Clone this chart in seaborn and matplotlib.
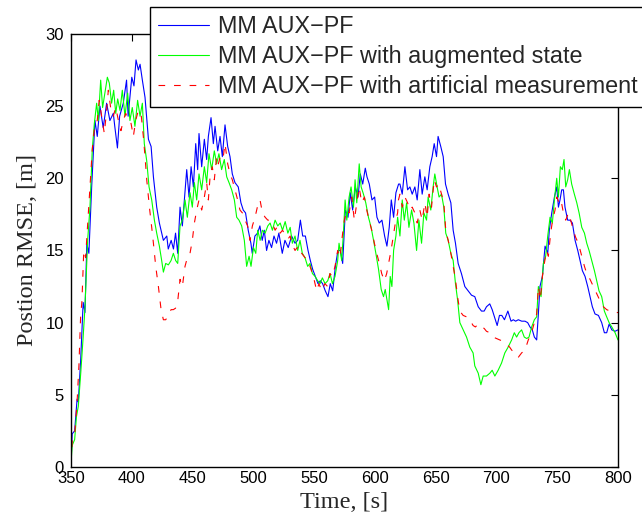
import matplotlib
matplotlib.use("Agg")
import matplotlib.pyplot as plt
import seaborn as sns
import numpy as np

# -----------------------------
# Data (time [s], RMSE [m])
# -----------------------------
t_blue = [350, 351, 353, 355, 356, 358, 360, 361.5, 363, 364.7, 367, 368.4, 369.7, 371.6, 373.8,
          376.5, 379.3, 382, 384.8, 386, 388.2, 390, 393, 395.7, 397, 400, 401.8, 403.5, 405.4,
          406.8, 408.7, 410.9, 413.7, 415.9, 417.8, 420.5, 422.7, 426, 428.8, 430, 432.4, 434.3,
          436, 437.8, 439.7, 441.6, 445.2, 447.1, 448.8, 450.7, 452.6, 454.2, 455.3, 457.5, 459.7,
          461.6, 463, 465.2, 467.1, 468.5, 470.7, 472.6, 474.5, 476.7, 478.9, 480.8, 482.7, 484.9,
          487.6, 489.8, 491.7, 493.6, 495.8, 498, 499.1, 501.3, 503.5, 505.4, 507.3, 509, 510.9,
          512.8, 515, 517, 519.1, 521, 523.8, 526, 528.7, 531.5, 534.3, 536.5, 538.7, 540.6, 542.8,
          545, 546.9, 548.8, 551, 553.2, 555.1, 557, 559.2, 561.4, 563.3, 565.3, 567.5, 569.6,
          571.6, 573.5, 575.7, 577.9, 579.8, 581.7, 583.9, 586.1, 588, 590, 592.1, 593.5, 595.4,
          597.6, 599.8, 601.7, 603.6, 605.8, 608, 609.9, 611.8, 613.5, 615.4, 617.3, 619.5, 620.6,
          622.5, 624.7, 626.9, 628.8, 630.7, 632.9, 634.8, 637, 638.9, 641.1, 643, 645.2, 647.1,
          648.8, 650.7, 652, 654.2, 656.2, 658.1, 660.3, 662.5, 664.4, 666.3, 668.5, 671.2, 674,
          676.7, 679.5, 682.2, 685, 687.7, 689.9, 691.8, 694.5, 696.5, 698.4, 700.6, 702.5, 704.4,
          706.6, 709.4, 712, 713.9, 715.8, 718, 720.8, 723.5, 725.7, 727.6, 729.5, 731.2, 733.1,
          734.5, 735.8, 737.8, 740, 742.2, 743.5, 745.5, 747.7, 749.6, 751, 752.3, 753.7, 755.1,
          756.4, 758.6, 760.5, 762.5, 764.7, 766.9, 768.8, 770.7, 772.9, 775.1, 777, 778.9, 781.1,
          783.9, 786.6, 788.8, 790.7, 792.7, 794.9, 797.6, 800]
rmse_blue = [0.3, 2.3, 2.5, 4.7, 4.5, 7.5, 11.4, 10.7, 15.5, 14.8, 19.4, 21.8, 24.0, 22.9, 25.0,
             23.5, 25.2, 24.0, 24.5, 23.6, 22.1, 24.3, 25.2, 26.8, 24.3, 27.0, 26.4, 28.2, 27.5,
             27.9, 26.8, 25.6, 22.7, 22.2, 20.1, 18.0, 16.9, 15.7, 16.0, 15.1, 15.7, 15.1,
             16.2, 14.8, 18.0, 16.7, 20.6, 18.7, 20.8, 19.4, 22.4, 20.6, 23.1, 20.8, 22.7,
             21.3, 22.9, 24.2, 22.4, 23.6, 21.9, 22.9, 21.5, 23.7, 22.2, 21.5, 20.3, 19.7,
             19.4, 18.3, 17.8, 17.6, 16.4, 15.5, 14.8, 16.0, 16.2, 16.7, 15.7, 16.4, 15.0,
             15.7, 15.2, 16.0, 15.5, 16.2, 14.8, 15.7, 15.2, 16.0, 15.5, 15.7, 17.1, 16.0, 16.0,
             15.0, 14.3, 13.7, 13.2, 12.7, 12.9, 12.7, 12.2, 11.8, 12.7, 12.2, 13.9, 15.0,
             15.0, 14.1, 17.8, 17.3, 19.0, 17.8, 19.4, 18.7, 20.3, 19.6, 20.7, 20.1, 19.6,
             18.5, 18.7, 17.3, 16.9, 17.1, 16.0, 15.3, 16.6, 18.5, 17.3, 19.0, 19.6, 19.6,
             18.9, 20.8, 19.2, 19.4, 18.9, 19.4, 18.5, 20.6, 18.9, 20.1, 19.2, 20.8, 21.5,
             22.4, 21.5, 22.9, 22.2, 21.5, 19.6, 18.9, 18.3, 16.4, 15.5, 14.1, 13.4, 12.5,
             12.2, 11.9, 11.8, 11.1, 10.8, 10.8, 11.1, 11.3, 10.9, 10.4, 9.8, 10.5, 10.5,
             10.2, 10.8, 10.1, 10.2, 10.1, 10.2, 10.1, 10.1, 10.0, 9.7, 9.5, 9.0, 8.8,
             10.6, 12.5, 13.2, 15.3, 14.8, 16.4, 17.6, 18.7, 19.4, 18.0, 18.5, 19.2, 19.2,
             18.0, 17.1, 17.1, 16.9, 15.7, 15.0, 14.3, 13.6, 13.2, 12.5, 11.8, 11.1, 10.6,
             10.5, 10.0, 9.3, 9.3, 9.9, 9.5, 9.4, 9.5]

t_green = [350, 351, 353, 354.5, 356, 358, 360, 361.5, 363.7, 365.6, 367.5, 369.2, 371.1, 372.5,
           374.4, 376, 377.9, 379.9, 381.5, 383.4, 385.1, 386.8, 388.4, 390.3, 392.2, 394.4,
           396.6, 398.5, 400.4, 402.6, 404.8, 406.8, 408.7, 410.3, 412.3, 414.2, 416.4, 418.6,
           420.5, 422.7, 424.6, 426, 427.9, 430.1, 432.3, 434.2, 436.1, 437.8, 439.7, 441.6,
           443.8, 445.7, 447.9, 449.8, 451.5, 453.4, 455.3, 457.5, 459.7, 461.6, 463.5, 465.7,
           467.9, 469.8, 471.7, 473.9, 476.1, 478.1, 480, 482.2, 484.4, 486.3, 488.2, 490.4,
           492.6, 494.5, 496.5, 498.1, 500.1, 502, 503.6, 505.6, 507.5, 509.7, 511.9, 513.8,
           515.7, 517.9, 520.1, 522.1, 524, 526.2, 528.4, 530.3, 532.1, 534.3, 536.5, 538.4,
           540.3, 542.5, 544.7, 546.6, 548.6, 550.8, 553, 554.9, 556.8, 559, 561.2, 563.1,
           565.1, 567.2, 569.4, 570.5, 572.7, 574.1, 575.5, 576.9, 578.8, 580.4, 582.4, 583.7,
           585.1, 587.1, 588.7, 590.6, 592.5, 594.7, 596.9, 598.9, 600.8, 603, 605.2, 607.1,
           608.5, 609.9, 611.3, 612.6, 614, 615.4, 617.3, 618.7, 620.6, 622.5, 624.2, 626.1,
           628, 630.2, 632.1, 634.3, 636.2, 638.4, 640.3, 642.5, 643.8, 646, 647.9, 649.3,
           651.2, 652.8, 654.8, 656.7, 658.3, 660.3, 662.5, 664.4, 666.3, 668, 669.9, 672.6,
           675.4, 678.1, 680.8, 682.2, 685, 687.2, 689.1, 691.8, 694.6, 696.5, 698.7, 701.4,
           704.2, 706.9, 709.6, 712.5, 714.7, 716.6, 718.5, 720.7, 722.9, 724.9, 726.8, 729,
           731.2, 733.1, 734.5, 736.7, 738.6, 740.5, 742.2, 744.1, 746, 747.7, 749.6, 751,
           752.6, 754.2, 755.6, 757, 758.6, 760, 761.9, 764.1, 766.1, 768, 770.2, 772.4, 774.3,
           776.2, 778.4, 780.6, 782.5, 784.4, 786.6, 788.8, 790.7, 792.7, 794.9, 797.6, 800]
rmse_green = [0.3, 1.5, 1.9, 3.5, 4.2, 6.5, 9.0, 11.1, 15.7, 18.0, 22.0, 23.8, 25.2, 24.0,
              26.8, 24.9, 25.9, 27.0, 26.6, 25.2, 26.1, 24.5, 25.5, 24.7, 26.1, 24.3,
              25.9, 24.0, 24.9, 23.6, 25.4, 24.3, 25.2, 22.4, 21.2, 19.4, 18.5, 17.1,
              16.2, 15.3, 14.3, 13.5, 14.1, 14.0, 14.3, 14.8, 14.3, 14.1, 16.7, 17.1,
              18.5, 17.3, 19.0, 18.0, 19.7, 18.5, 20.3, 19.2, 20.8, 19.7, 21.7, 20.6,
              21.9, 21.0, 21.7, 20.6, 21.3, 20.1, 19.7, 19.2, 18.5, 17.3, 17.1, 16.7,
              15.7, 13.9, 14.6, 13.9, 15.2, 14.8, 16.4, 15.7, 16.4, 16.2, 16.7, 16.9,
              16.4, 17.1, 16.7, 16.9, 16.4, 17.0, 16.2, 16.6, 15.5, 16.0, 15.0, 15.7,
              14.8, 14.5, 13.9, 14.1, 13.4, 13.2, 12.9, 12.7, 13.1, 12.7, 12.9, 13.4,
              12.7, 13.2, 14.3, 15.5, 14.3, 16.2, 18.5, 17.1, 18.7, 19.4, 18.0, 19.9,
              18.3, 21.0, 19.4, 18.9, 18.3, 17.3, 16.6, 15.7, 14.8, 13.7, 12.3, 11.8,
              12.3, 11.6, 10.9, 13.2, 12.5, 15.0, 16.0, 17.3, 16.0, 18.5, 17.1, 18.3,
              16.6, 17.8, 16.9, 15.0, 17.1, 15.5, 17.6, 17.1, 18.7, 17.8, 19.4, 20.3,
              19.4, 18.7, 18.9, 18.0, 16.2, 15.7, 14.8, 14.3, 12.7, 11.6, 10.0, 9.5,
              9.0, 8.3, 7.9, 7.0, 6.5, 5.7, 6.3, 6.3, 6.5, 6.7, 6.3, 6.7,
              7.2, 7.9, 8.3, 8.8, 9.3, 9.0, 9.3, 9.5, 9.0, 8.9, 9.0, 9.7,
              10.2, 10.4, 12.5, 11.8, 14.1, 14.6, 16.0, 17.3, 16.9, 18.5, 20.0, 18.7,
              20.8, 20.6, 21.3, 19.4, 19.9, 20.6, 19.6, 18.9, 18.3, 17.6, 16.6, 16.2, 15.5,
              15.0, 14.3, 13.6, 12.9, 12.2, 11.8, 10.8, 10.4, 10.0, 9.7, 9.3, 8.8]

t_red = [350, 351, 353, 355, 356.5, 357.9, 359, 360.5, 362, 363.5, 365.6, 367.5, 369.7, 371.6,
         373.2, 375.2, 377.4, 379.3, 380.7, 382.9, 384.8, 386.8, 389, 391.1, 393, 395, 397.2,
         399.4, 401.3, 403.2, 405.4, 407.6, 409.5, 410.9, 412.3, 414.5, 416.4, 417.8, 419.7,
         421.9, 424.1, 426, 427.9, 430.1, 432.3, 434.2, 436, 437.8, 439.7, 441.6, 443.8, 446,
         447.9, 449.8, 451.5, 453.4, 455.3, 457.5, 459.7, 461.6, 463, 464.4, 466.2, 467.9,
         469.8, 471.2, 473.4, 475.3, 476.7, 478.9, 480.8, 482.7, 484.9, 487.1, 489, 491, 493.2,
         495.3, 497.3, 499.2, 501.4, 503.3, 505.5, 507.5, 509.7, 511.9, 513.8, 515.7, 517.9,
         520.1, 522.1, 524, 526.2, 528.6, 530.3, 531.5, 534.3, 537, 539.8, 542.5, 544.7, 546.6,
         549.4, 552.1, 554, 556.2, 558.9, 561.1, 563, 565, 567.2, 569.4, 571.3, 573.2, 574.9,
         576.8, 578.8, 580.9, 583.1, 585.1, 587, 589.2, 591.4, 593.3, 595.2, 597.4, 599.6,
         601.5, 603.7, 605.6, 607.8, 609.7, 611.7, 613.3, 615.2, 617.2, 618.7, 619.4, 620.6,
         622.5, 624.7, 626.9, 628.8, 630.7, 632.9, 634.8, 637, 638.9, 641.1, 643, 644.6, 646.6,
         648.8, 650.7, 652.6, 654.8, 656.7, 658.3, 660.3, 662.5, 664.4, 666.3, 668, 669.9,
         672.6, 675.4, 678.1, 680.8, 682.7, 685, 687.7, 689.9, 691.8, 694.6, 697.3, 700, 702.7,
         705.5, 708.2, 710.9, 712.5, 715.2, 718, 720.7, 723.5, 726.2, 728.9, 731.2, 733.1,
         734.5, 736.1, 737.8, 739.4, 741.3, 742.7, 744.6, 746.2, 748.2, 749.6, 751.5, 753.1,
         755.1, 757, 759.2, 761.1, 763.3, 765.2, 767.4, 770.2, 772.4, 774.3, 777, 779.8, 782.5,
         785.3, 788, 790.7, 793.5, 796.2, 800]
rmse_red = [0.3, 1.8, 2.2, 4.5, 7.0, 10.4, 11.5, 15.0, 14.5, 16.5, 19.4, 22.0, 23.8, 24.0,
            25.4, 24.3, 23.1, 24.7, 26.1, 24.7, 24.3, 24.9, 24.0, 23.3, 24.0, 24.5, 24.0,
            23.8, 22.9, 24.0, 24.7, 24.5, 22.9, 21.5, 19.9, 18.0, 16.6, 15.5, 13.9,
            12.5, 10.9, 10.2, 10.2, 10.5, 10.9, 10.9, 11.0, 11.5, 13.0, 12.5, 13.9, 14.6,
            14.8, 15.7, 16.9, 17.8, 18.5, 17.8, 18.7, 19.7, 18.5, 20.1, 20.8, 19.9,
            21.5, 21.0, 21.7, 21.5, 22.4, 21.0, 20.3, 19.9, 19.2, 18.5, 17.8, 17.6, 17.1,
            16.7, 15.7, 16.7, 17.3, 18.0, 18.5, 17.6, 17.3, 17.1, 17.1, 16.9, 16.4,
            16.7, 16.2, 16.4, 16.1, 15.8, 16.0, 15.5, 15.0, 15.3, 14.8, 14.5, 14.4, 13.9,
            13.2, 12.2, 12.7, 12.2, 12.7, 12.5, 13.4, 13.2, 13.9, 15.0, 14.5, 16.0, 17.1,
            17.8, 17.6, 18.7, 17.1, 18.3, 19.4, 18.3, 18.7, 17.8, 17.1, 16.4, 15.5,
            14.8, 14.1, 13.4, 12.9, 13.4, 14.3, 15.0, 16.0, 17.1, 17.6, 18.5, 18.9,
            18.0, 18.7, 18.3, 17.8, 18.0, 17.6, 16.9, 17.8, 17.1, 18.3, 17.3, 18.9, 18.0,
            19.9, 19.4, 19.6, 18.9, 18.3, 16.4, 15.7, 14.8, 13.9, 13.0, 11.8, 10.8,
            10.5, 10.4, 10.2, 9.8, 9.7, 9.9, 9.7, 9.6, 9.4, 9.3, 9.0, 8.9, 8.8,
            8.7, 8.5, 8.3, 8.1, 7.9, 7.6, 7.9, 8.1, 8.8, 9.3, 10.0, 10.6,
            12.5, 11.6, 13.2, 14.1, 15.0, 14.6, 16.2, 17.1, 17.8, 18.7, 18.3, 18.5,
            17.6, 17.1, 17.6, 17.1, 16.4, 15.9, 15.5, 14.6, 13.9, 13.4, 13.0, 12.5, 12.0,
            11.5, 11.1, 10.9, 10.8, 10.7, 10.7]

labels = ["MM AUX\u2212PF",
          "MM AUX\u2212PF with augmented state",
          "MM AUX\u2212PF with artificial measurement"]
x_ticks = [350, 400, 450, 500, 550, 600, 650, 700, 750, 800]
y_ticks = [0, 5, 10, 15, 20, 25, 30]

# -----------------------------
# Style
# -----------------------------
sns.set_style("white")
plt.rcParams["font.family"] = ["Liberation Sans", "DejaVu Sans"]

fig = plt.figure(figsize=(6.42, 5.18), dpi=100)
ax = fig.add_axes([0.1106, 0.0985, 0.852, 0.836])

sns.lineplot(x=np.array(t_blue), y=np.array(rmse_blue), color=(0, 0, 1),
             linewidth=0.8, label=labels[0], ax=ax)
sns.lineplot(x=np.array(t_green), y=np.array(rmse_green), color=(0, 1, 0),
             linewidth=0.8, label=labels[1], ax=ax)
sns.lineplot(x=np.array(t_red), y=np.array(rmse_red), color=(1, 0, 0),
             linewidth=0.8, linestyle=(0, (6, 8)), label=labels[2], ax=ax)

ax.set_xlim(350, 800)
ax.set_ylim(0, 30)
ax.set_xticks(x_ticks)
ax.set_yticks(y_ticks)
ax.tick_params(direction="in", length=5, width=0.8, top=True, right=True,
               labelsize=12, colors="black")
ax.tick_params(axis="y", pad=5)
ax.tick_params(axis="x", pad=3)
for s in ax.spines.values():
    s.set_visible(True)
    s.set_color("black")
    s.set_linewidth(1.0)

ax.set_xlabel("Time, [s]", family="Liberation Serif", fontsize=17.5, labelpad=4)
ax.set_ylabel("Postion RMSE, [m]", family="Liberation Serif", fontsize=17.5, labelpad=5)

# legend box sits over the top of the axes and runs off the right edge
leg = ax.legend(loc="upper left", bbox_to_anchor=(150 / 642, 1 - 7 / 518),
                bbox_transform=fig.transFigure, fontsize=16.8, frameon=True,
                fancybox=False, edgecolor="black", framealpha=1, borderaxespad=0,
                handlelength=2.15, handletextpad=0.4, labelspacing=0.3,
                borderpad=0.36)
leg.get_frame().set_linewidth(1.0)

fig.savefig("out.png", dpi=100)
